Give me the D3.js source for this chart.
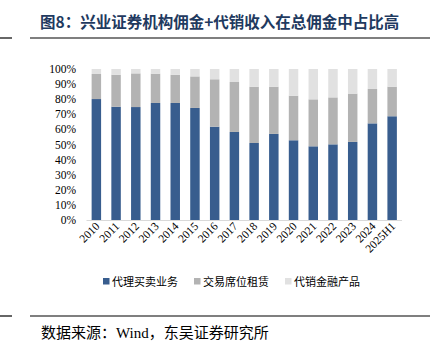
<!DOCTYPE html>
<meta charset="utf-8">
<head>
  <title>兴业证券机构佣金+代销收入占比</title>
</head>
<script src="https://d3js.org/d3.v7.min.js"></script>
<style>
  body { margin: 0; background: #fff; }
  text { font-family: "Liberation Serif", "Times New Roman", "Noto Sans CJK SC", serif; }
</style>
<body>
  <div id="my_dataviz"></div>
</body>
<script>
  // data (percent of total commission)
  var years = ["2010", "2011", "2012", "2013", "2014", "2015", "2016", "2017",
    "2018", "2019", "2020", "2021", "2022", "2023", "2024", "2025H1"];
  var brokerage = [80.1, 75.0, 74.8, 77.5, 77.5, 74.2, 61.8, 58.3, 51.0, 57.0, 52.8, 48.8, 50.1, 51.7, 64.0, 68.7];
  var seatRental = [16.6, 21.2, 22.3, 19.4, 18.7, 20.9, 31.4, 33.1, 37.3, 31.3, 29.5, 31.1, 31.1, 32.0, 22.8, 19.6];
  var productSales = [3.3, 3.8, 2.9, 3.1, 3.8, 4.9, 6.8, 8.6, 11.7, 11.7, 17.7, 20.1, 18.8, 16.3, 13.2, 11.7];
  var seriesNames = ["代理买卖业务", "交易席位租赁", "代销金融产品"];
  var yTicks = [0, 10, 20, 30, 40, 50, 60, 70, 80, 90, 100];

  var colors = ["#385d8e", "#b3b3b3", "#e1e1e1"];

  var W = 446, H = 352;
  var svg = d3.select("#my_dataviz")
    .append("svg")
    .attr("width", W)
    .attr("height", H);

  // title + rules
  svg.append("text")
    .attr("x", 40)
    .attr("y", 28)
    .style("font-family", "'Noto Sans CJK SC', sans-serif")
    .style("font-weight", "bold")
    .style("font-size", "15.5px")
    .attr("fill", "#1f3a60")
    .text("图8：兴业证券机构佣金+代销收入在总佣金中占比高");

  [38, 316].forEach(function (yy) {
    svg.append("line").attr("x1", 0).attr("x2", 12).attr("y1", yy).attr("y2", yy)
      .attr("stroke", "#000").attr("stroke-width", 1.2);
    svg.append("line").attr("x1", 30).attr("x2", 430).attr("y1", yy).attr("y2", yy)
      .attr("stroke", "#000").attr("stroke-width", 1.2);
  });

  svg.append("text")
    .attr("x", 41)
    .attr("y", 338)
    .style("font-family", "'Liberation Serif', 'Noto Sans CJK SC', serif")
    .style("font-size", "15px")
    .attr("fill", "#000")
    .text("数据来源：Wind，东吴证券研究所");

  // chart
  var x = d3.scaleBand()
    .domain(years)
    .range([86.5, 402])
    .paddingInner(0.52)
    .paddingOuter(0.26);
  var y = d3.scaleLinear()
    .domain([0, 100])
    .range([220, 69]);

  var rows = years.map(function (yr, i) {
    return { year: yr, a: brokerage[i], b: seatRental[i], c: productSales[i] };
  });
  var stacked = d3.stack().keys(["a", "b", "c"])(rows);

  svg.append("g")
    .selectAll("g")
    .data(stacked)
    .enter()
    .append("g")
    .attr("fill", function (d, i) { return colors[i]; })
    .selectAll("rect")
    .data(function (d) { return d; })
    .enter()
    .append("rect")
    .attr("x", function (d) { return x(d.data.year); })
    .attr("width", x.bandwidth())
    .attr("y", function (d) { return y(Math.min(d[1], 100)); })
    .attr("height", function (d) { return y(d[0]) - y(Math.min(d[1], 100)); });

  // x axis line
  svg.append("line")
    .attr("x1", 86.5).attr("x2", 402)
    .attr("y1", y(0) + 0.5).attr("y2", y(0) + 0.5)
    .attr("stroke", "#d9d9d9").attr("stroke-width", 1.2);

  // y tick labels
  svg.append("g")
    .selectAll("text")
    .data(yTicks)
    .enter()
    .append("text")
    .attr("x", 76)
    .attr("y", function (d) { return y(d) + 4; })
    .attr("text-anchor", "end")
    .style("font-size", "11.5px")
    .attr("fill", "#000")
    .text(function (d) { return d + "%"; });

  // x labels, rotated
  svg.append("g")
    .selectAll("text")
    .data(years)
    .enter()
    .append("text")
    .attr("text-anchor", "end")
    .attr("transform", function (d) {
      return "translate(" + (x(d) + x.bandwidth() / 2 + 4) + "," + 227 + ") rotate(-45)";
    })
    .style("font-size", "11.5px")
    .attr("fill", "#000")
    .text(function (d) { return d; });

  // legend
  var legendX = [103, 194, 285];
  var legend = svg.append("g")
    .selectAll("g")
    .data(seriesNames)
    .enter()
    .append("g")
    .attr("transform", function (d, i) { return "translate(" + legendX[i] + ",282)"; });
  legend.append("rect")
    .attr("x", 0).attr("y", -4)
    .attr("width", 6.5).attr("height", 6.5)
    .attr("fill", function (d, i) { return colors[i]; });
  legend.append("text")
    .attr("x", 9)
    .attr("y", 4)
    .style("font-family", "'Noto Sans CJK SC', sans-serif")
    .style("font-size", "11px")
    .attr("fill", "#000")
    .text(function (d) { return d; });
</script>
